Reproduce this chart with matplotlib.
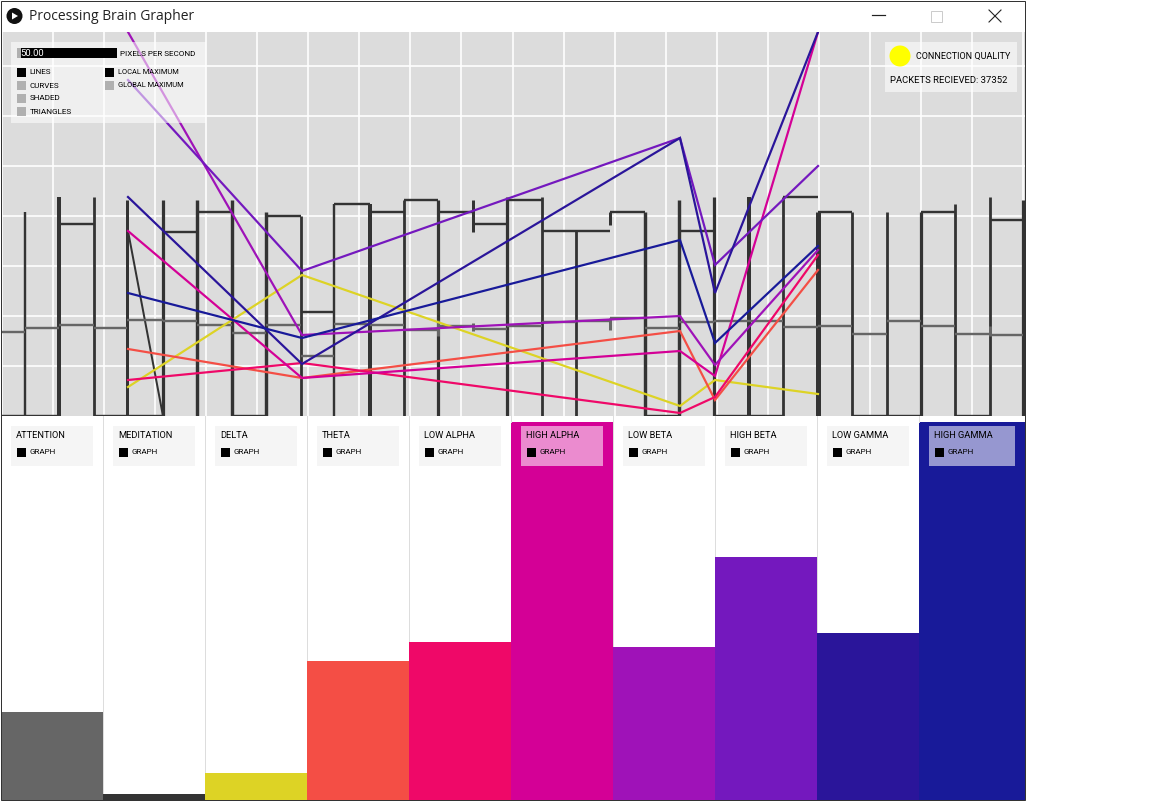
import matplotlib
matplotlib.use("Agg")
import matplotlib.pyplot as plt
from matplotlib.patches import Rectangle, Circle, Polygon

W, H = 1152, 801
UI_FONT = "Roboto"
UI_PX = 8.1

# --- data ---
categories = ["ATTENTION", "MEDITATION", "DELTA", "THETA", "LOW ALPHA",
              "HIGH ALPHA", "LOW BETA", "HIGH BETA", "LOW GAMMA", "HIGH GAMMA"]
bar_values = [23.3, 1.6, 7.1, 36.8, 41.8, 100, 40.5, 64.3, 44.1, 100]
bar_edges = [1, 103, 205, 307, 409, 511, 613, 715, 817, 919, 1025]
bar_colors = ["#666666", "#333333", "#DDD325", "#F44E45", "#EF0868",
              "#D40096", "#9F12B8", "#7418BE", "#2A159A", "#181A99"]

wave_times = [128, 302, 680, 715, 818]
delta = [29, 141, 10, 36, 22]
theta = [67, 38, 85, 16, 146]
low_alpha = [36, 53, 3, 19, 161]
high_alpha = [185, 38, 65, 40, 384]
low_beta = [384, 81, 100, 51, 166]
high_beta = [336, 145, 278, 151, 250]
low_gamma = [219, 52, 278, 123, 384]
high_gamma = [123, 78, 176, 73, 170]
wave_series = [delta, theta, low_alpha, high_alpha, low_beta, high_beta, low_gamma, high_gamma]

sample_edges = [0, 25, 59, 94, 127, 163, 197, 232, 266, 301, 334, 370, 404, 438, 473, 507,
                542, 576, 610, 645, 679, 714, 749, 783, 818, 852, 887, 921, 955, 990, 1023]
meditation_levels = [0, 0, 192, 0, 0, 184, 204, 0, 200, 104, 212, 204, 216, 204, 192, 216,
                     185, 185, 204, 0, 185, 0, 0, 219, 204, 0, 0, 204, 0, 196]
attention_levels = [84, 88, 91, 88, 96, 95, 91, 83, 91, 60, 92, 91, 86, 90, 87, 90,
                    94, 95, 98, 88, 94, 95, 95, 89, 90, 82, 95, 90, 82, 81]
spike_tops = [204, 219, 219, 216, 216, 216, 216, 204, 200, 212, 212, 216, 216, 216, 219,
              219, 185, 204, 204, 216, 219, 219, 219, 204, 204, 204, 204, 212, 219, 216]
spike_bottoms = [0, 0, 0, 0, 0, 0, 0, 0, 0, 0, 0, 0, 0, 184, 0,
                 0, 0, 191, 0, 0, 0, 0, 0, 0, 0, 0, 0, 0, 0, 0]
spike_widths = [2.4, 4, 2.8, 3, 3.2, 3.4, 3.4, 3.4, 2.8, 2.4, 4, 2.8, 3.2, 3, 3.2,
                2.8, 2.8, 3, 3.4, 3.4, 3.2, 4, 2.8, 5, 2.8, 2.8, 3.2, 2.8, 2.8, 3.2]
attention_tick_times = [473, 610, 438, 990]
attention_tick_low = [85, 86, 80, 80]
attention_tick_high = [93, 98, 96, 90]
transition_times = [128, 163]
transition_values = [185, 0]

grid_x = [2 + 51.05 * i for i in range(21)]
grid_y = [50 * i for i in range(1, 8)]

px = 72 / 100
fig = plt.figure(figsize=(W / 100, H / 100), dpi=100, facecolor="white")


def box(l, t, r, b):
    return [l / W, 1 - b / H, (r - l) / W, (b - t) / H]


# --- time graph ---
ax = fig.add_axes(box(1, 32, 1025, 416), facecolor="#DCDCDC")
ax.set_xlim(1, 1025)
ax.set_ylim(0, 384)
ax.set_axis_off()
ax.add_patch(Rectangle((0, 0), 1, 1, transform=ax.transAxes, color="#DCDCDC", zorder=0))
ax.vlines(grid_x, 0, 384, color="white", lw=1.6 * px, zorder=1)
ax.hlines(grid_y, 1, 1025, color="white", lw=1.6 * px, zorder=1)
ax.vlines(sample_edges[1:], spike_bottoms, spike_tops, color="#333333",
          lw=[w * px for w in spike_widths], zorder=2)
ax.hlines(meditation_levels, sample_edges[:-1], sample_edges[1:], color="#333333", lw=2.4 * px, zorder=2)
ax.plot(transition_times, transition_values, color="#333333", lw=2 * px, zorder=2)
ax.hlines(attention_levels, sample_edges[:-1], sample_edges[1:], color="#666666", lw=2.4 * px, zorder=3)
ax.vlines(attention_tick_times, attention_tick_low, attention_tick_high, color="#666666", lw=3 * px, zorder=3)
for vals, col in zip(wave_series, bar_colors[2:]):
    ax.plot(wave_times, vals, color=col, lw=2.2 * px, zorder=4, solid_joinstyle="miter")

# --- bars ---
bx = fig.add_axes(box(0, 422, 1025, 800))
bx.set_xlim(0, 1025)
bx.set_ylim(0, 100)
bx.set_axis_off()
bx.vlines(bar_edges[1:-1], 0, 100, color="#DDDDDD", lw=1 * px, zorder=1)
bx.bar(bar_edges[:-1], bar_values, width=[b - a for a, b in zip(bar_edges[:-1], bar_edges[1:])],
       align="edge", color=bar_colors, zorder=2)

# --- window chrome and control panels ---
ui = fig.add_axes([0, 0, 1, 1], facecolor="none")
ui.set_xlim(0, W)
ui.set_ylim(H, 0)
ui.set_axis_off()


def rect(l, t, r, b, **k):
    k.setdefault("lw", 0)
    ui.add_patch(Rectangle((l, t), r - l, b - t, **k))


def label(x, y, s, color="black", size=UI_PX):
    ui.text(x, y, s, color=color, fontsize=size * px, family=UI_FONT, va="center", ha="left")


for x in bar_edges[1:-1]:
    ui.plot([x, x], [416, 422], color="#DDDDDD", lw=1 * px)

# column panels
panel_left = [11, 113, 215, 317, 419, 521, 623, 725, 827, 929]
panel_right = [93, 195, 297, 399, 501, 603, 705, 807, 909, 1015]
for l, r, name in zip(panel_left, panel_right, categories):
    if name in ("HIGH ALPHA", "HIGH GAMMA"):
        rect(l, 426, r, 466, facecolor="white", alpha=0.55)
    else:
        rect(l, 426, r, 466, facecolor="#F5F5F5")
    label(l + 5, 435.5, name, size=9.3)
    rect(l + 6, 448, l + 15, 457, facecolor="black")
    label(l + 19, 452.5, "GRAPH", size=8)

# top-left panel
rect(11, 42, 206, 123, facecolor="white", alpha=0.55)
rect(17, 48, 21, 58, facecolor="#B0B0B0")
rect(21, 48, 117, 58, facecolor="black")
label(20.5, 53.5, "50.00", color="white", size=9.5)
label(120, 53.5, "PIXELS PER SECOND")
rows = [("LINES", "black"), ("CURVES", "#B0B0B0"), ("SHADED", "#B0B0B0"), ("TRIANGLES", "#B0B0B0")]
for i, (s, c) in enumerate(rows):
    y = 68 + 13 * i
    rect(17, y, 26, y + 9, facecolor=c)
    label(29.5, y + 4.5, s)
for i, (s, c) in enumerate([("LOCAL MAXIMUM", "black"), ("GLOBAL MAXIMUM", "#B0B0B0")]):
    y = 68 + 13 * i
    rect(105, y, 114, y + 9, facecolor=c)
    label(117.5, y + 4.5, s, size=7.5)

# top-right panel
rect(885, 42, 1017, 92, facecolor="white", alpha=0.55)
ui.add_patch(Circle((900, 56), 10.5, facecolor="#FFFF00", lw=0))
label(916.5, 56.5, "CONNECTION QUALITY", size=9)
label(889.5, 80.5, "PACKETS RECIEVED: 37352", size=9.45)

# title bar
ui.add_patch(Circle((14.5, 16), 8, facecolor="#111111", lw=0))
ui.add_patch(Polygon([[12, 12.5], [12, 19.5], [18, 16]], facecolor="white", lw=0))
ui.text(29, 16.5, "Processing Brain Grapher", fontsize=13.85 * px, family="Open Sans",
        color="#222222", va="center", ha="left")
ui.plot([872, 885], [15, 15], color="#222222", lw=1.2 * px)
rect(930.5, 10.5, 941.5, 21.5, facecolor="none", edgecolor="#CCCCCC", lw=1 * px)
ui.plot([989, 1001], [10, 22], color="#222222", lw=1.1 * px)
ui.plot([989, 1001], [22, 10], color="#222222", lw=1.1 * px)

# window frame
rect(0.5, 0.5, 1025, 800, facecolor="none", edgecolor="#333333", lw=1 * px)

fig.savefig("out.png", dpi=100)
